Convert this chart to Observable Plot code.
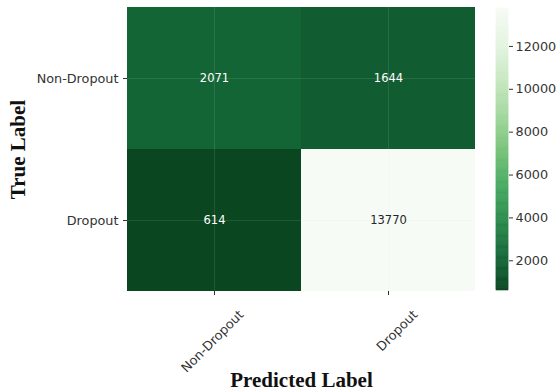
<!DOCTYPE html>
<html>
<head>
<meta charset="utf-8">
<script src="https://cdn.jsdelivr.net/npm/d3@7"></script>
<script src="https://cdn.jsdelivr.net/npm/@observablehq/plot@0.6"></script>
<style>
  body { margin: 0; background: #fff; }
  #chart { position: relative; width: 559px; height: 391px; overflow: hidden; background: #fff; }
  #chart > svg { position: absolute; top: 0; }
  #chart [aria-label="x-axis label"],
  #chart [aria-label="y-axis label"] {
    font-family: "Liberation Serif", "Times New Roman", serif;
    font-weight: bold;
    font-size: 21px;
    fill: #111;
  }
</style>
</head>
<body>
<div id="chart"></div>
<script>
// Confusion matrix: rows are true classes, columns are predicted classes
const trueLabels = ["Non-Dropout", "Dropout"];
const predictedLabels = ["Non-Dropout", "Dropout"];
const counts = [
  [2071, 1644],
  [614, 13770]
];
const colorbarTicks = [2000, 4000, 6000, 8000, 10000, 12000];

const cells = trueLabels.flatMap((t, i) =>
  predictedLabels.map((p, j) => ({ actual: t, predicted: p, count: counts[i][j] }))
);
const vmin = d3.min(cells, d => d.count);
const vmax = d3.max(cells, d => d.count);
const mid = (vmin + vmax) / 2;

// Reversed green ramp: small counts dark, large counts pale
const greenStops = [
  "#0a4620", "#156939", "#2c8a4b", "#48aa62", "#78c37a",
  "#a3d89e", "#c8e8c2", "#e5f4e1", "#f7fbf5"
];
const color = {
  type: "linear",
  domain: greenStops.map((_, i) => vmin + (vmax - vmin) * i / (greenStops.length - 1)),
  range: greenStops,
  interpolate: "rgb"
};

const baseStyle = {
  fontFamily: "DejaVu Sans, sans-serif",
  fontSize: "12.8px",
  color: "#333",
  background: "transparent",
  overflow: "visible"
};

const heatmap = Plot.plot({
  width: 480,
  height: 391,
  marginLeft: 127,
  marginRight: 5,
  marginTop: 7,
  marginBottom: 100,
  x: { domain: predictedLabels, padding: 0 },
  y: { domain: trueLabels, padding: 0 },
  color,
  style: baseStyle,
  marks: [
    Plot.cell(cells, { x: "predicted", y: "actual", fill: "count" }),
    Plot.gridX({ stroke: "#cfe6d8", strokeOpacity: 0.12 }),
    Plot.gridY({ stroke: "#cfe6d8", strokeOpacity: 0.12 }),
    Plot.text(cells, {
      filter: d => d.count < mid,
      x: "predicted", y: "actual", text: d => String(d.count),
      fill: "#fff", fontSize: 11.5
    }),
    Plot.text(cells, {
      filter: d => d.count >= mid,
      x: "predicted", y: "actual", text: d => String(d.count),
      fill: "#262626", fontSize: 11.5
    }),
    // tick marks under each column
    Plot.axisX({ tickSize: 4, tickFormat: () => "", label: null }),
    // rotated column names, centred under their ticks
    Plot.axisX({
      tickRotate: -45, tickSize: 0, tickPadding: 6, dx: 27, dy: 15,
      label: null
    }),
    Plot.axisX({
      ticks: [], tickSize: 0,
      label: "Predicted Label", labelAnchor: "center", labelOffset: 95
    }),
    Plot.axisY({
      tickSize: 4, tickPadding: 5,
      label: "True Label", labelAnchor: "center", labelOffset: 117
    })
  ]
});
heatmap.style.left = "0px";

// Vertical colour bar built from thin slices of the same colour scale
const slices = d3.range(256).map(i => ({
  lo: vmin + (vmax - vmin) * i / 256,
  hi: vmin + (vmax - vmin) * (i + 1) / 256
}));

const colorbar = Plot.plot({
  width: 99,
  height: 391,
  marginLeft: 36,
  marginRight: 51,
  marginTop: 8,
  marginBottom: 101,
  x: { domain: [0, 1], axis: null },
  y: { domain: [vmin, vmax] },
  color,
  style: baseStyle,
  marks: [
    Plot.rect(slices, {
      x1: 0, x2: 1, y1: "lo", y2: "hi",
      fill: d => (d.lo + d.hi) / 2,
      stroke: d => (d.lo + d.hi) / 2,
      strokeWidth: 0.6
    }),
    Plot.axisY({
      anchor: "right", ticks: colorbarTicks, tickSize: 4, tickPadding: 3,
      tickFormat: d3.format("d"), label: null
    })
  ]
});
colorbar.style.left = "460px";

const chart = document.getElementById("chart");
chart.append(heatmap, colorbar);
</script>
</body>
</html>
